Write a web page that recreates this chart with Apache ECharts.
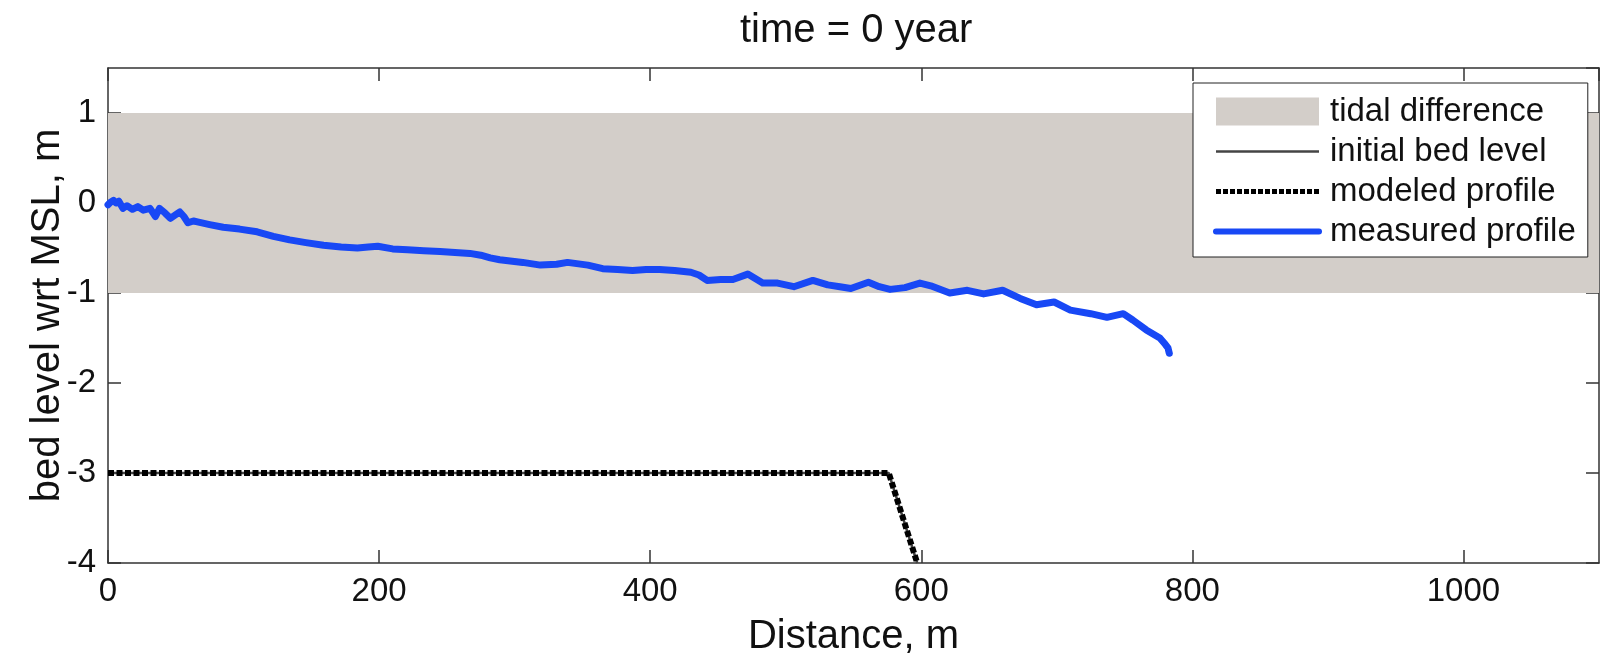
<!DOCTYPE html>
<html>
<head>
<meta charset="utf-8">
<script src="https://cdn.jsdelivr.net/npm/echarts@6/dist/echarts.min.js"></script>
<style>
html,body{margin:0;padding:0;background:#fff;}
#chart{width:1606px;height:662px;}
</style>
</head>
<body>
<div id="chart"></div>
<script>
// ---- data ----
const titleText = 'time = 0 year';
const xName = 'Distance, m';
const yName = 'bed level wrt MSL, m';
const legendNames = ['tidal difference', 'initial bed level', 'modeled profile', 'measured profile'];

const xRange = [0, 1100];
const yRange = [-4, 1.5];
const tideLow = -1;
const tideHigh = 1;

const initialX = [0, 576, 597];
const initialY = [-3, -3, -4];
const modeledX = [0, 576, 597];
const modeledY = [-3, -3, -4];

const measuredX = [0, 2, 4, 6, 8, 11, 14, 18, 22, 26, 31, 35, 38, 42, 46, 50, 53, 56, 59, 63,
  66, 75, 85, 97, 110, 122, 134, 146, 159, 172, 184, 192, 199, 210, 221, 233, 245, 256, 267, 275,
  282, 289, 306, 319, 331, 339, 354, 365, 376, 387, 397, 407, 418, 430, 436, 442, 452, 461, 472, 483,
  494, 506, 520, 531, 540, 548, 561, 569, 577, 588, 599, 607, 621, 634, 646, 660, 673, 685, 698, 710,
  725, 737, 749, 756, 766, 776, 780, 782, 783];
const measuredY = [-0.02, 0.01, 0.03, 0.0, 0.02, -0.06, -0.03, -0.07, -0.04, -0.08, -0.06, -0.15, -0.06, -0.11, -0.17, -0.13, -0.10, -0.15, -0.22, -0.20,
  -0.21, -0.24, -0.27, -0.29, -0.32, -0.37, -0.41, -0.44, -0.47, -0.49, -0.50, -0.49, -0.48, -0.51, -0.52, -0.53, -0.54, -0.55, -0.56, -0.58,
  -0.61, -0.63, -0.66, -0.69, -0.68, -0.66, -0.69, -0.73, -0.74, -0.75, -0.74, -0.74, -0.75, -0.77, -0.80, -0.86, -0.85, -0.85, -0.79, -0.89,
  -0.89, -0.93, -0.86, -0.91, -0.93, -0.95, -0.88, -0.93, -0.96, -0.94, -0.89, -0.92, -1.00, -0.97, -1.01, -0.97, -1.06, -1.13, -1.10, -1.19,
  -1.23, -1.27, -1.23, -1.30, -1.41, -1.50, -1.57, -1.61, -1.67];

// ---- styling ----
const FONT = '"Liberation Sans", Arial, Helvetica, sans-serif';
const AXIS_COLOR = '#333';
const TIDE_COLOR = '#d3cec9';
const BLUE = '#1848f5';
const INIT_STYLE = {color: '#444', width: 2.5, type: 'solid'};
const MODEL_STYLE = {color: '#000', width: 6, type: [6, 2.5]};
const MEAS_STYLE = {color: BLUE, width: 7, type: 'solid'};

function zip(xs, ys) { return xs.map((x, i) => [x, ys[i]]); }

const chart = echarts.init(document.getElementById('chart'), null, {renderer: 'canvas'});

const axisCommon = {
  type: 'value',
  axisLine: {show: true, onZero: false, lineStyle: {color: AXIS_COLOR, width: 1.5}},
  axisTick: {show: true, inside: true, length: 13, lineStyle: {color: AXIS_COLOR, width: 1.5}},
  splitLine: {show: false}
};

const option = {
  animation: false,
  backgroundColor: '#fff',
  title: {
    text: titleText,
    left: 740,
    top: 6,
    padding: [5, 0, 5, 0],
    textStyle: {fontFamily: FONT, fontSize: 40, fontWeight: 'normal', color: '#111'}
  },
  grid: {left: 108, right: 7, top: 68, bottom: 99, containLabel: false},
  legend: {
    orient: 'vertical',
    left: 1193,
    top: 83,
    padding: [12, 12, 9, 20],
    itemWidth: 103,
    itemHeight: 28,
    itemGap: 7,
    backgroundColor: '#fff',
    borderColor: '#222',
    borderWidth: 1,
    borderRadius: 0,
    selectedMode: false,
    textStyle: {fontFamily: FONT, fontSize: 33, color: '#111', padding: [0, 0, 0, 6]},
    data: [
      {name: legendNames[0], icon: 'rect', itemStyle: {color: TIDE_COLOR}},
      {name: legendNames[1], itemStyle: {opacity: 0}, lineStyle: Object.assign({}, INIT_STYLE)},
      {name: legendNames[2], itemStyle: {opacity: 0}, lineStyle: {color: '#000', width: 5, type: [5, 2]}},
      {name: legendNames[3], itemStyle: {opacity: 0}, lineStyle: Object.assign({}, MEAS_STYLE, {width: 6})}
    ]
  },
  xAxis: [
    Object.assign({}, axisCommon, {
      position: 'bottom', min: xRange[0], max: xRange[1], interval: 200,
      name: xName, nameLocation: 'middle', nameGap: 54, nameMoveOverlap: false,
      nameTextStyle: {fontFamily: FONT, fontSize: 40, color: '#111'},
      axisLabel: {fontFamily: FONT, fontSize: 33, color: '#111', margin: 12, showMaxLabel: false,
        formatter: v => String(v)}
    }),
    Object.assign({}, axisCommon, {
      position: 'top', min: xRange[0], max: xRange[1], interval: 200,
      axisLabel: {show: false}
    })
  ],
  yAxis: [
    Object.assign({}, axisCommon, {
      position: 'left', min: yRange[0], max: yRange[1], interval: 1,
      name: yName, nameLocation: 'middle', nameGap: 40, nameMoveOverlap: false,
      nameTextStyle: {fontFamily: FONT, fontSize: 40, color: '#111'},
      axisLabel: {fontFamily: FONT, fontSize: 33, color: '#111', margin: 12, showMaxLabel: false,
        formatter: v => (Number.isInteger(v) ? String(v) : '')}
    }),
    Object.assign({}, axisCommon, {
      position: 'right', min: yRange[0], max: yRange[1], interval: 1,
      axisLabel: {show: false}
    })
  ],
  series: [
    {
      name: legendNames[0], type: 'line', xAxisIndex: 0, yAxisIndex: 0,
      data: [[xRange[0], tideHigh], [xRange[1], tideHigh]],
      symbol: 'none', silent: true,
      color: TIDE_COLOR,
      lineStyle: {width: 0, opacity: 0},
      itemStyle: {color: TIDE_COLOR},
      markArea: {
        silent: true,
        itemStyle: {color: TIDE_COLOR, opacity: 1},
        data: [[{xAxis: xRange[0], yAxis: tideLow}, {xAxis: xRange[1], yAxis: tideHigh}]]
      },
      z: 1
    },
    {
      name: legendNames[1], type: 'line', data: zip(initialX, initialY),
      symbol: 'none', silent: true, color: '#444',
      lineStyle: INIT_STYLE, z: 3
    },
    {
      name: legendNames[2], type: 'line', data: zip(modeledX, modeledY),
      symbol: 'none', silent: true, color: '#000',
      lineStyle: MODEL_STYLE, z: 4
    },
    {
      name: legendNames[3], type: 'line', data: zip(measuredX, measuredY),
      symbol: 'none', silent: true, color: BLUE,
      lineStyle: Object.assign({join: 'round', cap: 'round'}, MEAS_STYLE), z: 5
    }
  ]
};

chart.setOption(option);
</script>
</body>
</html>
